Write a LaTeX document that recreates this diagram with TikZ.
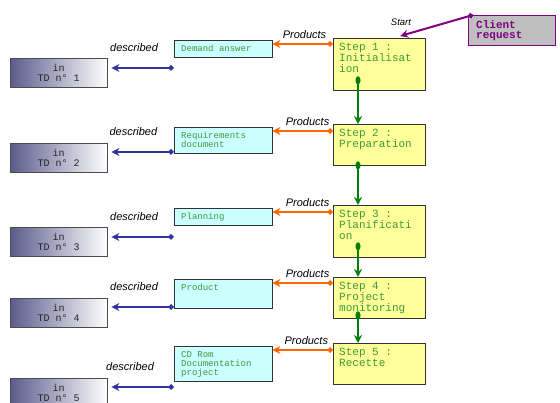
\documentclass[tikz,border=0pt]{standalone}
\usepackage{fontspec}
\setmainfont{Liberation Sans}
\setmonofont{Liberation Mono}
\usetikzlibrary{arrows.meta,positioning,calc}

\definecolor{stepfill}{HTML}{FFFF99}
\definecolor{docfill}{HTML}{CCFFFF}
\definecolor{steptext}{HTML}{3C9A3C}
\definecolor{prodorange}{HTML}{FF6600}
\definecolor{descblue}{HTML}{333399}
\definecolor{flowgreen}{HTML}{008000}
\definecolor{startpurple}{HTML}{800080}
\definecolor{tdshade}{HTML}{5C5C8C}

\begin{document}
\begin{tikzpicture}[x=1pt, y=-1pt,
    stepbox/.style={rectangle, draw=black!80, fill=stepfill, anchor=north west, text=steptext,
      font=\ttfamily\fontsize{11}{11}\selectfont, align=flush left, text width=80pt, inner xsep=6pt, inner ysep=4pt, text height=8pt},
    docbox/.style={rectangle, draw=black!80, fill=docfill, anchor=north west, text=steptext,
      font=\ttfamily\fontsize{9}{9}\selectfont, align=flush left, text width=84pt, inner xsep=7pt, inner ysep=4pt, text height=7pt},
    tdbox/.style={rectangle, draw=black!70, left color=tdshade, right color=white, anchor=north west, text=black!85,
      font=\ttfamily\fontsize{10}{10}\selectfont, align=flush center, minimum width=97pt, minimum height=29pt, inner sep=0pt},
    clientbox/.style={rectangle, draw=startpurple, fill=black!25, anchor=north west, text=startpurple,
      font=\ttfamily\bfseries\fontsize{11}{10}\selectfont, align=flush left, text width=71pt, inner xsep=8pt, minimum height=30pt},
    tag/.style={font=\itshape\fontsize{11}{11}\selectfont},
    prodarrow/.style={draw=prodorange, line width=2pt, {Diamond[length=6pt,width=6pt]}-{Stealth[length=8pt,width=8pt]}},
    descarrow/.style={draw=descblue, line width=2pt, {Diamond[length=6pt,width=6pt]}-{Stealth[length=8pt,width=8pt]}, shorten >=4pt},
    flowarrow/.style={draw=flowgreen, line width=2pt, {Ellipse[length=8pt,width=5pt]}-{Stealth[length=8pt,width=8pt]}},
    startarrow/.style={draw=startpurple, line width=2pt, {Circle[length=5pt]}-{Stealth[length=8pt,width=8pt]}}]
  \clip (0,0) rectangle (560,403);

  % Client request
  \node[clientbox] (cl) at (468,15) {Client\\request};

  % Steps
  \node[stepbox, text depth=36pt] (s1) at (333,38) {Step 1 :\\Initialisat\\ion};
  \node[stepbox, text depth=25pt] (s2) at (333,124) {Step 2 :\\Preparation};
  \node[stepbox, text depth=36pt] (s3) at (333,205) {Step 3 :\\Planificati\\on};
  \node[stepbox, text depth=25pt] (s4) at (333,277) {Step 4 :\\Project\\monitoring};
  \node[stepbox, text depth=25pt] (s5) at (333,343) {Step 5 :\\Recette};

  % Documents
  \node[docbox, text depth=2pt] (c1) at (174,40) {Demand answer};
  \node[docbox, text depth=11pt] (c2) at (174,127) {Requirements\\document};
  \node[docbox, text depth=2pt] (c3) at (174,208) {Planning};
  \node[docbox, text depth=14pt] (c4) at (174,279) {Product};
  \node[docbox, text depth=20pt] (c5) at (174,346) {CD Rom\\Documentation\\project};

  % TD references
  \node[tdbox] (g1) at (10,58) {in\\TD n° 1};
  \node[tdbox] (g2) at (10,143) {in\\TD n° 2};
  \node[tdbox] (g3) at (10,227) {in\\TD n° 3};
  \node[tdbox] (g4) at (10,298) {in\\TD n° 4};
  \node[tdbox] (g5) at (10,378) {in\\TD n° 5};

  % Start
  \node[tag, font=\itshape\fontsize{9.5}{9.5}\selectfont] (st) at (401,22) {Start};
  \draw[startarrow] ([xshift=5pt]cl.north west) -- ([xshift=21pt,yshift=2pt]s1.north);

  % Flow between steps
  \draw[flowarrow] ([xshift=25pt,yshift=14pt]s1.south west) -- ([xshift=25pt]s2.north west);
  \draw[flowarrow] ([xshift=25pt,yshift=4pt]s2.south west) -- ([xshift=25pt]s3.north west);
  \draw[flowarrow] ([xshift=25pt,yshift=15pt]s3.south west) -- ([xshift=25pt]s4.north west);
  \draw[flowarrow] ([xshift=25pt,yshift=7pt]s4.south west) -- ([xshift=25pt]s5.north west);

  % Products
  \coordinate (p1) at ($(c1.north east)+(0,4)$);
  \coordinate (p2) at ($(c2.north east)+(0,4)$);
  \coordinate (p3) at ($(c3.north east)+(0,4)$);
  \coordinate (p4) at ($(c4.north east)+(0,4)$);
  \coordinate (p5) at ($(c5.north east)+(0,4)$);
  \draw[prodarrow] (s1.west |- p1) -- (p1) node[tag, pos=0.47, above=1pt] (pr1) {Products};
  \draw[prodarrow] (s2.west |- p2) -- (p2) node[tag, pos=0.42, above=1pt] (pr2) {Products};
  \draw[prodarrow] (s3.west |- p3) -- (p3) node[tag, pos=0.42, above=1pt] (pr3) {Products};
  \draw[prodarrow] (s4.west |- p4) -- (p4) node[tag, pos=0.42, above=1pt] (pr4) {Products};
  \draw[prodarrow] (s5.west |- p5) -- (p5) node[tag, pos=0.44, above=1pt] (pr5) {Products};

  % Described
  \coordinate (d1) at ($(g1.north east)+(0,10)$);
  \coordinate (d2) at ($(g2.north east)+(0,9)$);
  \coordinate (d3) at ($(g3.north east)+(0,10)$);
  \coordinate (d4) at ($(g4.north east)+(0,9)$);
  \coordinate (d5) at ($(g5.north east)+(0,9)$);
  \draw[descarrow] (d1 -| c1.west) -- (d1) node[tag, pos=0.6, above=12pt] (ds1) {described};
  \draw[descarrow] (d2 -| c2.west) -- (d2) node[tag, pos=0.61, above=12pt] (ds2) {described};
  \draw[descarrow] (d3 -| c3.west) -- (d3) node[tag, pos=0.6, above=12pt] (ds3) {described};
  \draw[descarrow] (d4 -| c4.west) -- (d4) node[tag, pos=0.6, above=12pt] (ds4) {described};
  \draw[descarrow] (d5 -| c5.west) -- (d5) node[tag, pos=0.66, above=12pt] (ds5) {described};
\end{tikzpicture}
\end{document}
